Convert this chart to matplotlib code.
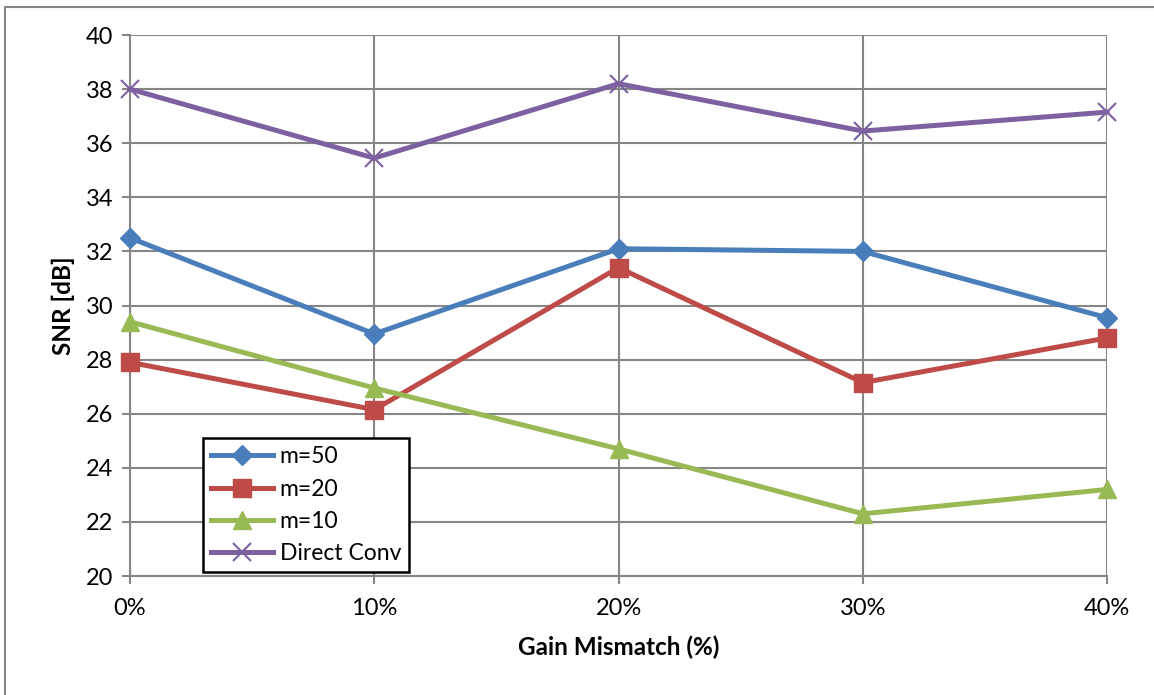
import matplotlib.pyplot as plt
from matplotlib.patches import Rectangle

plt.rcParams['font.family'] = ['Lato', 'DejaVu Sans']

mismatch = [0, 10, 20, 30, 40]
x_labels = ['0%', '10%', '20%', '30%', '40%']
snr_m50 = [32.5, 28.95, 32.1, 32.0, 29.55]
snr_m20 = [27.9, 26.15, 31.4, 27.15, 28.8]
snr_m10 = [29.4, 26.95, 24.7, 22.3, 23.2]
snr_direct = [38.0, 35.45, 38.2, 36.45, 37.15]

fig = plt.figure(figsize=(11.54, 6.95), dpi=100)
ax = fig.add_axes([0.1127, 0.1712, 0.8466, 0.7784])

grid_col = '#868686'
ax.plot(mismatch, snr_m50, color='#4A7EBB', lw=3.6, marker='D', ms=10, label='m=50', zorder=3)
ax.plot(mismatch, snr_m20, color='#BE4B48', lw=3.6, marker='s', ms=13, label='m=20', zorder=3)
ax.plot(mismatch, snr_m10, color='#98B954', lw=3.6, marker='^', ms=13, label='m=10', zorder=3)
ax.plot(mismatch, snr_direct, color='#7D60A0', lw=3.6, marker='x', ms=13, mew=1.5, label='Direct Conv', zorder=3)

ax.set_xlim(0, 40)
ax.set_ylim(20, 40)
ax.set_xticks(mismatch)
ax.set_xticklabels(x_labels)
ax.set_yticks(range(20, 41, 2))
ax.grid(True, color=grid_col, lw=1.5)
for side in ['top', 'right']:
    ax.spines[side].set_visible(False)
for side in ['left', 'bottom']:
    ax.spines[side].set_color(grid_col)
    ax.spines[side].set_linewidth(1.5)
ax.tick_params(axis='both', labelsize=17, color=grid_col, width=1.5, length=6)
ax.tick_params(axis='x', pad=10)
ax.tick_params(axis='y', pad=6)
for ln in ax.lines:
    ln.set_clip_on(False)

ax.set_xlabel('Gain Mismatch (%)', fontsize=17.5, fontweight='bold', labelpad=12)
ax.set_ylabel('SNR [dB]', fontsize=17.5, fontweight='bold', labelpad=8)

leg = ax.legend(loc='upper left', bbox_to_anchor=(0.0747, 0.255), borderaxespad=0,
                fontsize=16.5, numpoints=1, handlelength=2.7, handletextpad=0.3,
                labelspacing=0.5, fancybox=False, framealpha=1, borderpad=0.35)
leg.get_frame().set_edgecolor('black')
leg.get_frame().set_linewidth(1.8)
leg.set_zorder(5)

fig.patches.append(Rectangle((0.0045, -0.01), 1.0, 1.0, transform=fig.transFigure,
                             fill=False, edgecolor=grid_col, lw=1.5))

fig.savefig('out.png', dpi=100)
